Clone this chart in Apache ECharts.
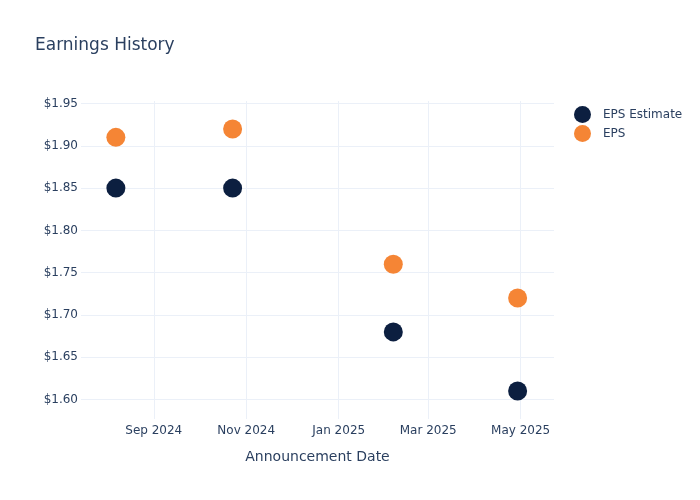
<!DOCTYPE html>
<html>
<head>
<meta charset="utf-8">
<script src="https://cdn.jsdelivr.net/npm/echarts@6/dist/echarts.min.js"></script>
<style>
  html, body { margin: 0; padding: 0; background: #fff; }
  #main { width: 700px; height: 500px; }
</style>
</head>
<body>
<div id="main"></div>
<script>
// announcement dates and eps values
var dates = ['2024-08-07', '2024-10-23', '2025-02-06', '2025-04-29'];
var epsEstimate = [1.85, 1.85, 1.68, 1.61];
var epsActual = [1.91, 1.92, 1.76, 1.72];

// tick labels
var xTicks = ['2024-09-01', '2024-11-01', '2025-01-01', '2025-03-01', '2025-05-01'];
var yTicks = [1.60, 1.65, 1.70, 1.75, 1.80, 1.85, 1.90, 1.95];

var monthNames = ['Jan', 'Feb', 'Mar', 'Apr', 'May', 'Jun', 'Jul', 'Aug', 'Sep', 'Oct', 'Nov', 'Dec'];
var textColor = '#2a3f5f';
var gridColor = '#ebf0f8';
var font = 'DejaVu Sans';

// dates as UTC timestamps on a plain value axis
function ts(s) { return Date.parse(s + 'T00:00:00Z'); }

function pairs(values) {
    var out = [];
    for (var i = 0; i < dates.length; i++) {
        out.push([ts(dates[i]), values[i]]);
    }
    return out;
}

var xTickValues = xTicks.map(ts);

var chart = echarts.init(document.getElementById('main'));

var option = {
    backgroundColor: '#fff',
    textStyle: { fontFamily: font },
    title: {
        text: 'Earnings History',
        left: 30,
        top: 32,
        textStyle: { fontSize: 17, fontWeight: 'normal', color: textColor, fontFamily: font }
    },
    legend: {
        orient: 'vertical',
        left: 574,
        top: 106,
        padding: 0,
        itemWidth: 17,
        itemHeight: 17,
        itemGap: 2,
        icon: 'circle',
        textStyle: { fontSize: 12, color: textColor, fontFamily: font, padding: [0, 0, 0, 7] },
        data: ['EPS Estimate', 'EPS']
    },
    grid: { left: 81, right: 146, top: 101, bottom: 81 },
    xAxis: {
        type: 'value',
        min: ts('2024-07-15'),
        max: ts('2025-05-23'),
        name: 'Announcement Date',
        nameLocation: 'middle',
        nameGap: 31,
        nameTextStyle: { fontSize: 14, color: textColor, fontFamily: font },
        axisLine: { show: false },
        axisTick: { show: false, customValues: xTickValues },
        axisLabel: {
            customValues: xTickValues,
            margin: 6,
            fontSize: 12,
            color: textColor,
            fontFamily: font,
            formatter: function (v) {
                var d = new Date(v);
                return monthNames[d.getUTCMonth()] + ' ' + d.getUTCFullYear();
            }
        },
        splitLine: { show: true, lineStyle: { color: gridColor, width: 1 } }
    },
    yAxis: {
        type: 'value',
        min: 1.577,
        max: 1.953,
        axisLine: { show: false },
        axisTick: { show: false, customValues: yTicks },
        axisLabel: {
            customValues: yTicks,
            margin: 3,
            fontSize: 12,
            color: textColor,
            fontFamily: font,
            formatter: function (v) { return '$' + v.toFixed(2); }
        },
        splitLine: { show: true, lineStyle: { color: gridColor, width: 1 } }
    },
    series: [{
        name: 'EPS Estimate',
        type: 'scatter',
        symbolSize: 19,
        itemStyle: { color: '#0c1f40', opacity: 1 },
        data: pairs(epsEstimate)
    }, {
        name: 'EPS',
        type: 'scatter',
        symbolSize: 19,
        itemStyle: { color: '#f58535', opacity: 1 },
        data: pairs(epsActual)
    }]
};
chart.setOption(option);
</script>
</body>
</html>
